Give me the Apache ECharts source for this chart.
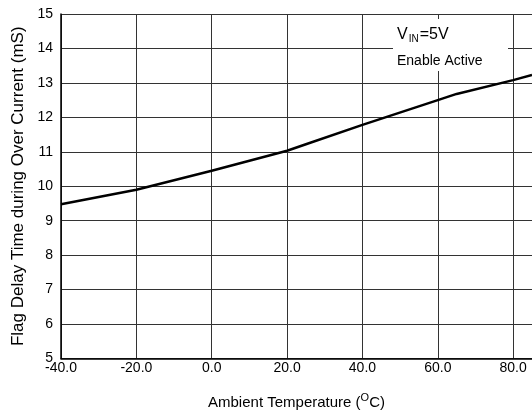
<!DOCTYPE html>
<html>
<head>
<meta charset="utf-8">
<script src="https://cdn.jsdelivr.net/npm/echarts@6/dist/echarts.min.js"></script>
<style>
  html, body { margin: 0; padding: 0; background: #fff; }
  #chart { width: 532px; height: 417px; }
</style>
</head>
<body>
<div id="chart"></div>
<script>
// curve
const temps = [-40, -20, 0, 20, 25, 40, 60, 65, 80, 85];
const delays = [9.48, 9.9, 10.45, 11.03, 11.22, 11.78, 12.5, 12.68, 13.08, 13.23];
const xTicks = [-40, -20, 0, 20, 40, 60, 80];

const font = '"Liberation Sans", Arial, sans-serif';
const el = document.getElementById('chart');
const chart = echarts.init(el, null, { renderer: 'canvas' });

chart.setOption({
    backgroundColor: '#fff',
    animation: false,
    textStyle: { fontFamily: font, color: '#000' },
    grid: { left: 61, right: -2, top: 14, bottom: 58.5 },
    xAxis: {
        type: 'value',
        min: -40,
        max: 85,
        interval: 20,
        name: '{t|Ambient Temperature (}{sup|O}{t|C)}',
        nameLocation: 'middle',
        nameGap: 34,
        nameTextStyle: {
            rich: {
                t: { fontSize: 15, fontFamily: font, color: '#000' },
                sup: { fontSize: 11, fontFamily: font, color: '#000', padding: [0, 0, 9, 0] }
            }
        },
        axisLine: { show: true, onZero: false, lineStyle: { color: '#000', width: 1.5 } },
        axisTick: { show: false },
        axisLabel: {
            margin: 3,
            fontSize: 14,
            color: '#000',
            fontFamily: font,
            showMaxLabel: false,
            formatter: v => xTicks.includes(v) ? v.toFixed(1) : ''
        },
        splitLine: { show: true, lineStyle: { color: '#333', width: 1 } }
    },
    yAxis: {
        type: 'value',
        min: 5,
        max: 15,
        interval: 1,
        name: 'Flag Delay Time during Over Current (mS)',
        nameLocation: 'middle',
        nameGap: 34,
        nameTextStyle: { fontSize: 17, fontFamily: font, color: '#000' },
        axisLine: { show: true, onZero: false, lineStyle: { color: '#000', width: 1.5 } },
        axisTick: { show: false },
        axisLabel: { margin: 8, fontSize: 14, color: '#000', fontFamily: font },
        splitLine: { show: true, lineStyle: { color: '#333', width: 1 } }
    },
    graphic: [
        {
            type: 'rect',
            z: 50,
            shape: { x: 393, y: 19, width: 115, height: 52 },
            style: { fill: '#fff' }
        },
        {
            type: 'text',
            z: 51,
            x: 397,
            y: 25,
            style: {
                text: '{v|V}{s|IN}{v|=5V}',
                rich: {
                    v: { fontSize: 16, fontFamily: font, fill: '#000' },
                    s: { fontSize: 10, fontFamily: font, fill: '#000', padding: [9, 1, 0, 1] }
                }
            }
        },
        {
            type: 'text',
            z: 51,
            x: 397,
            y: 54,
            style: { text: 'Enable Active', fontSize: 14, fontFamily: font, fill: '#000' }
        }
    ],
    series: [{
        type: 'line',
        data: temps.map((t, i) => [t, delays[i]]),
        showSymbol: false,
        smooth: false,
        lineStyle: { color: '#000', width: 2.5 },
        z: 10
    }]
});
window.addEventListener('resize', () => chart.resize());
</script>
</body>
</html>
